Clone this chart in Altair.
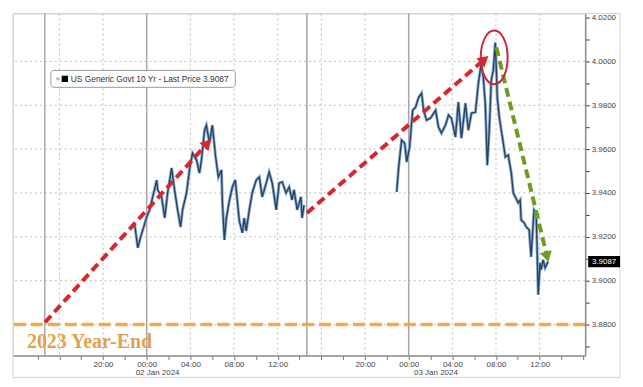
import altair as alt
import pandas as pd

# ---------------- data ----------------
jan2_times = [
    "2024-01-01T22:54", "2024-01-01T23:11", "2024-01-01T23:27", "2024-01-02T00:00",
    "2024-01-02T00:16", "2024-01-02T00:33", "2024-01-02T00:55", "2024-01-02T01:00",
    "2024-01-02T01:22", "2024-01-02T01:39", "2024-01-02T01:55", "2024-01-02T02:17",
    "2024-01-02T02:33", "2024-01-02T02:50", "2024-01-02T03:06", "2024-01-02T03:17",
    "2024-01-02T03:39", "2024-01-02T03:55", "2024-01-02T04:12", "2024-01-02T04:34",
    "2024-01-02T04:50", "2024-01-02T05:01", "2024-01-02T05:18", "2024-01-02T05:28",
    "2024-01-02T05:45", "2024-01-02T06:01", "2024-01-02T06:18", "2024-01-02T06:34",
    "2024-01-02T06:51", "2024-01-02T06:56", "2024-01-02T07:07", "2024-01-02T07:18",
    "2024-01-02T07:34", "2024-01-02T07:51", "2024-01-02T08:07", "2024-01-02T08:18",
    "2024-01-02T08:29", "2024-01-02T08:46", "2024-01-02T08:56", "2024-01-02T09:07",
    "2024-01-02T09:24", "2024-01-02T09:40", "2024-01-02T10:02", "2024-01-02T10:19",
    "2024-01-02T10:35", "2024-01-02T10:57", "2024-01-02T11:13", "2024-01-02T11:30",
    "2024-01-02T11:52", "2024-01-02T12:08", "2024-01-02T12:25", "2024-01-02T12:46",
    "2024-01-02T13:03", "2024-01-02T13:19", "2024-01-02T13:30", "2024-01-02T13:47",
    "2024-01-02T14:08", "2024-01-02T14:14", "2024-01-02T14:25",
]
jan2_yields = [
    3.9255, 3.9150, 3.9200, 3.9290,
    3.9323, 3.9382, 3.9459, 3.9414,
    3.9382, 3.9286, 3.9400, 3.9514,
    3.9414, 3.9323, 3.9245, 3.9323,
    3.9400, 3.9505, 3.9582, 3.9550,
    3.9491, 3.9550, 3.9686, 3.9709,
    3.9627, 3.9709, 3.9570, 3.9473,
    3.9505, 3.9355, 3.9186, 3.9286,
    3.9364, 3.9427, 3.9459, 3.9364,
    3.9273, 3.9218, 3.9286, 3.9227,
    3.9323, 3.9400, 3.9459, 3.9473,
    3.9382, 3.9445, 3.9495, 3.9445,
    3.9323, 3.9445, 3.9450, 3.9400,
    3.9427, 3.9368, 3.9414, 3.9323,
    3.9382, 3.9286, 3.9345,
]
jan3_times = [
    "2024-01-02T22:54", "2024-01-02T23:05", "2024-01-02T23:21", "2024-01-02T23:38",
    "2024-01-02T23:49", "2024-01-03T00:05", "2024-01-03T00:22", "2024-01-03T00:38",
    "2024-01-03T00:55", "2024-01-03T01:11", "2024-01-03T01:22", "2024-01-03T01:38",
    "2024-01-03T02:00", "2024-01-03T02:28", "2024-01-03T02:44", "2024-01-03T03:00",
    "2024-01-03T03:22", "2024-01-03T03:39", "2024-01-03T03:55", "2024-01-03T04:17",
    "2024-01-03T04:33", "2024-01-03T04:50", "2024-01-03T05:12", "2024-01-03T05:28",
    "2024-01-03T05:45", "2024-01-03T06:07", "2024-01-03T06:23", "2024-01-03T06:39",
    "2024-01-03T06:50", "2024-01-03T07:01", "2024-01-03T07:12", "2024-01-03T07:23",
    "2024-01-03T07:34", "2024-01-03T07:45", "2024-01-03T07:56", "2024-01-03T08:02",
    "2024-01-03T08:07", "2024-01-03T08:18", "2024-01-03T08:29", "2024-01-03T08:40",
    "2024-01-03T08:51", "2024-01-03T09:07", "2024-01-03T09:24", "2024-01-03T09:35",
    "2024-01-03T09:46", "2024-01-03T10:02", "2024-01-03T10:13", "2024-01-03T10:18",
    "2024-01-03T10:35", "2024-01-03T10:46", "2024-01-03T11:02", "2024-01-03T11:13",
    "2024-01-03T11:29", "2024-01-03T11:41", "2024-01-03T11:52", "2024-01-03T12:02",
    "2024-01-03T12:08", "2024-01-03T12:19", "2024-01-03T12:30", "2024-01-03T12:46",
]
jan3_yields = [
    3.9405, 3.9518, 3.9641, 3.9627,
    3.9541, 3.9609, 3.9777, 3.9791,
    3.9836, 3.9855, 3.9777, 3.9732,
    3.9741, 3.9777, 3.9700, 3.9673,
    3.9709, 3.9755, 3.9741, 3.9655,
    3.9814, 3.9650, 3.9809, 3.9686,
    3.9764, 3.9768, 3.9900, 3.9991,
    3.9927, 3.9809, 3.9527, 3.9686,
    3.9914, 3.9959, 4.0086, 3.9959,
    3.9836, 3.9745, 3.9686, 3.9627,
    3.9564, 3.9573, 3.9491, 3.9400,
    3.9382, 3.9355, 3.9368, 3.9277,
    3.9264, 3.9245, 3.9232, 3.9109,
    3.9323, 3.9309, 3.8936, 3.9082,
    3.9050, 3.9095, 3.9059, 3.9087,
]

series_label = "US Generic Govt 10 Yr - Last Price 3.9087"
last_price = 3.9087
year_end_level = 3.88
year_end_label = "2023 Year-End"

y_grid_values = [3.88, 3.90, 3.92, 3.94, 3.96, 3.98, 4.00]
y_tick_values = [3.87, 3.88, 3.89, 3.90, 3.91, 3.92, 3.93, 3.94, 3.95,
                 3.96, 3.97, 3.98, 3.99, 4.00, 4.01, 4.02]
x_grid_times = ["2024-01-01T16:00", "2024-01-01T20:00", "2024-01-02T04:00",
                "2024-01-02T08:00", "2024-01-02T12:00", "2024-01-02T16:00",
                "2024-01-02T20:00", "2024-01-03T04:00", "2024-01-03T08:00",
                "2024-01-03T12:00"]
x_session_times = ["2024-01-01T14:40", "2024-01-02T00:00",
                   "2024-01-02T14:40", "2024-01-03T00:00"]
date_label_times = ["2024-01-02T01:00", "2024-01-03T02:30"]
date_labels = ["02 Jan 2024", "03 Jan 2024"]

arrow_start_t = ["2024-01-01T14:41", "2024-01-02T14:41", "2024-01-03T08:02"]
arrow_start_v = [3.8810, 3.9309, 4.0064]
arrow_end_t = ["2024-01-02T05:34", "2024-01-03T06:56", "2024-01-03T12:41"]
arrow_end_v = [3.9627, 4.0009, 3.9109]
arrow_colors = ["#d8262d", "#d8262d", "#6f9c1f"]
arrow_angles = [42, 49, 166]

circle_t = ["2024-01-03T07:50"]
circle_v = [4.0018]

# ---------------- tables ----------------
line_df = pd.DataFrame({
    "t": jan2_times + jan3_times,
    "v": jan2_yields + jan3_yields,
    "session": ["s1"] * len(jan2_times) + ["s2"] * len(jan3_times),
})
arrow_df = pd.DataFrame({"t": arrow_start_t, "v": arrow_start_v,
                         "t2": arrow_end_t, "v2": arrow_end_v,
                         "c": arrow_colors, "a": arrow_angles})
one = pd.DataFrame({"k": [0]})

W, H = 574, 343

xscale = alt.Scale(domain=[alt.DateTime(year=2024, month=1, date=1, hours=11, minutes=45),
                           alt.DateTime(year=2024, month=1, date=3, hours=16, minutes=10)])
yscale = alt.Scale(domain=[3.8659, 4.0218], nice=False, zero=False)

x_tick_values = []
for d, hs in [(1, range(14, 24, 2)), (2, range(0, 24, 2)), (3, range(0, 17, 2))]:
    for h in hs:
        x_tick_values.append(alt.DateTime(year=2024, month=1, date=d, hours=h))

xaxis = alt.Axis(values=x_tick_values, title=None, grid=False, zindex=2,
                 labelExpr="(hours(datum.value) % 4 == 0 && hours(datum.value) != 16) ? timeFormat(datum.value, '%H:%M') : ''",
                 domainColor="#8c8c8c", domainWidth=1.5, tickColor="#777", tickSize=4,
                 labelColor="#444", labelFontSize=8, labelPadding=1,
                 labelOverlap=False, labelFlush=False)
yaxis = alt.Axis(orient="right", values=y_tick_values, title=None, grid=False, zindex=2,
                 labelExpr="abs(round(datum.value * 100)) % 2 == 0 ? format(datum.value, '.4f') : ''",
                 domainColor="#8c8c8c", domainWidth=1.5, tickColor="#333", tickSize=4,
                 labelColor="#444", labelFontSize=8, labelPadding=2,
                 labelOverlap=False, labelFlush=False)


def X(f):
    return alt.X(f, type="temporal", scale=xscale, axis=xaxis)


def Y(f):
    return alt.Y(f, type="quantitative", scale=yscale, axis=yaxis)


frame = alt.Chart(one).mark_rect(fill="white", fillOpacity=0, stroke="#d2d2d2",
                                 strokeWidth=1).encode(
    x=alt.value(0), x2=alt.value(609), y=alt.value(0), y2=alt.value(365))

hgrid = alt.Chart(pd.DataFrame({"v": y_grid_values})).mark_rule(
    color="#bdbdbd", strokeDash=[2, 3], strokeWidth=1).encode(y=Y("v"))
vgrid = alt.Chart(pd.DataFrame({"t": x_grid_times})).mark_rule(
    color="#bdbdbd", strokeDash=[2, 3], strokeWidth=1).encode(x=X("t"))
vsess = alt.Chart(pd.DataFrame({"t": x_session_times})).mark_rule(
    color="#a6a6a6", strokeWidth=1.5).encode(x=X("t"))

legend_box = alt.Chart(one).mark_rect(fill="white", stroke="#9a9a9a", strokeWidth=1,
                                      cornerRadius=3).encode(
    x=alt.value(38), x2=alt.value(223), y=alt.value(57), y2=alt.value(74))
legend_dot = alt.Chart(one).mark_square(color="#bbbbbb", size=10, opacity=1).encode(
    x=alt.value(45), y=alt.value(65.5))
legend_sq = alt.Chart(one).mark_square(color="black", size=40, opacity=1).encode(
    x=alt.value(52), y=alt.value(65.5))
legend_txt = alt.Chart(one).mark_text(align="left", baseline="middle", fontSize=8.4,
                                      color="#333", font="Liberation Sans").encode(
    x=alt.value(58), y=alt.value(65.8), text=alt.value(series_label))

year_line = alt.Chart(one).mark_rule(color="#f2a33a", strokeWidth=3.5,
                                     strokeDash=[12, 5], opacity=0.9).encode(
    y=alt.Y(datum=year_end_level, type="quantitative", scale=yscale, axis=yaxis))
year_txt = alt.Chart(one).mark_text(align="left", baseline="alphabetic", fontSize=20,
                                    fontWeight="bold", font="Liberation Serif",
                                    color="#dfa24e").encode(
    x=alt.value(14), y=alt.value(335), text=alt.value(year_end_label))

price_under = alt.Chart(line_df).mark_line(color="#86a8cc", strokeWidth=3).encode(
    x=X("t"), y=Y("v"), detail="session:N")
price_line = alt.Chart(line_df).mark_line(color="#26405f", strokeWidth=1.3).encode(
    x=X("t"), y=Y("v"), detail="session:N")

shafts = alt.Chart(arrow_df).mark_rule(strokeWidth=4, strokeDash=[9, 5]).encode(
    x=X("t"), y=Y("v"), x2="t2:T", y2="v2:Q", color=alt.Color("c:N", scale=None))
heads = alt.Chart(arrow_df).mark_point(shape="triangle-up", filled=True, size=150,
                                       opacity=1).encode(
    x=X("t2"), y=Y("v2"), color=alt.Color("c:N", scale=None),
    angle=alt.Angle("a:Q", scale=None))

ellipse = alt.Chart(pd.DataFrame({"t": circle_t, "v": circle_v})).mark_point(
    shape="M -0.5 0 A 0.5 1 0 1 0 0.5 0 A 0.5 1 0 1 0 -0.5 0 Z",
    size=2916, filled=False, stroke="#c8283a", strokeWidth=2, opacity=1).encode(
    x=X("t"), y=Y("v"))

date_txt = alt.Chart(pd.DataFrame({"t": date_label_times, "lab": date_labels})).mark_text(
    fontSize=8, color="#444", baseline="middle").encode(
    x=X("t"), y=alt.value(H + 18), text="lab:N")

tag = alt.Chart(one).mark_point(shape="M -1 -0.36 L 1 -0.36 L 1 0.36 L -1 0.36 Z",
                                size=1024, filled=True, color="black", opacity=1).encode(
    x=alt.value(593), y=alt.Y(datum=last_price, type="quantitative", scale=yscale, axis=yaxis))
tag_txt = alt.Chart(one).mark_text(fontSize=8, color="white", baseline="middle").encode(
    x=alt.value(593), y=alt.Y(datum=last_price, type="quantitative", scale=yscale, axis=yaxis),
    text=alt.value("3.9087"))

chart = alt.layer(
    frame, hgrid, vgrid, vsess, legend_box, legend_dot, legend_sq, legend_txt,
    year_line, year_txt, price_under, price_line, shafts, heads, ellipse,
    date_txt, tag, tag_txt,
).properties(
    width=W, height=H,
    padding={"left": 5, "top": 5, "right": 50, "bottom": 25},
    autosize=alt.AutoSizeParams(type="none"),
).configure_view(stroke=None).configure(font="Liberation Sans")

chart.save("out.html", embed_options={"renderer": "svg", "actions": False})
